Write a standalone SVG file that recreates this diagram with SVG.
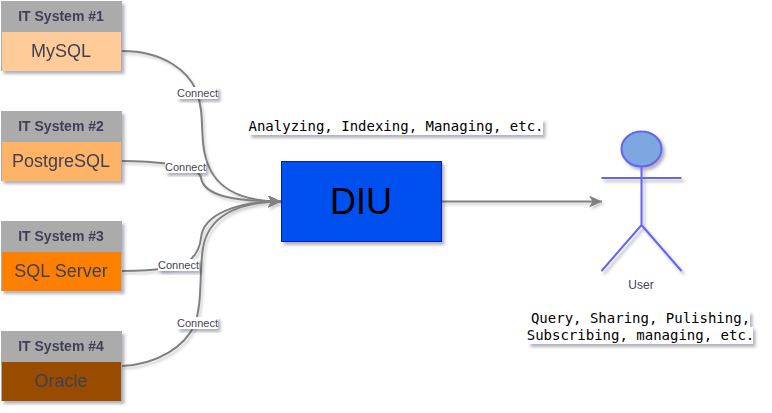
<svg xmlns="http://www.w3.org/2000/svg" width="772" height="413" viewBox="0 0 772 413">
<defs>
<filter id="sh" x="-20%" y="-20%" width="150%" height="150%"><feDropShadow dx="2.5" dy="3" stdDeviation="1.4" flood-color="#3a3a55" flood-opacity="0.38"/></filter>
<filter id="shc" filterUnits="userSpaceOnUse" x="0" y="0" width="772" height="413"><feDropShadow dx="2" dy="2.500" stdDeviation="1.200" flood-color="#3a3a55" flood-opacity="0.25"/></filter>
<marker id="arr" markerUnits="userSpaceOnUse" markerWidth="16" markerHeight="14" refX="13" refY="6" orient="auto"><path d="M0 0L13 6L0 12L3.500 6Z" fill="#808080"/></marker>
</defs>
<style>
text{font-family:"Liberation Sans",Arial,sans-serif;text-anchor:middle}
.hd{fill:#ababab}
.t{font-size:14px;font-weight:bold;fill:#3f3f55}
.b{font-size:18px;fill:#3f3f55}
.c{fill:none;stroke:#808080;stroke-width:2}
.lb{fill:#fff}
.l{font-size:11px;fill:#444450}
.m{font-family:"DejaVu Sans Mono","Liberation Mono",monospace;font-size:14px;fill:#000}
.u{fill:none;stroke:#6666e8;stroke-width:2}
</style>
<rect width="772" height="413" fill="#fff"/>
<g id="connectors" filter="url(#shc)">
<path class="c" marker-end="url(#arr)" d="M122 51C165 51 188 72 196 90C205 112 200 136 205 155C212 186 236 201.500 281 201.500"/>
<path class="c" marker-end="url(#arr)" d="M122 161C140 161 155 162 170 164C190 166 199 170 201 178C204 196 235 201.500 281 201.500"/>
<path class="c" marker-end="url(#arr)" d="M122 271C140 271 155 270 170 268C188 266 199 255 201 238C203 215 235 201.500 281 201.500"/>
<path class="c" marker-end="url(#arr)" d="M122 366C160 364 185 345 194 326C203 305 199 270 203 248C208 218 235 201.500 281 201.500"/>
<path class="c" marker-end="url(#arr)" d="M442 201.500H602"/>
</g>
<g id="label-1"><rect class="lb" x="177" y="87" width="41" height="12" filter="url(#sh)"/><text class="l" x="197.500" y="97">Connect</text></g>
<g id="label-2"><rect class="lb" x="165" y="161" width="41" height="12" filter="url(#sh)"/><text class="l" x="185.500" y="171">Connect</text></g>
<g id="label-3"><rect class="lb" x="158" y="259" width="41" height="12" filter="url(#sh)"/><text class="l" x="178.500" y="269">Connect</text></g>
<g id="label-4"><rect class="lb" x="177" y="317" width="41" height="12" filter="url(#sh)"/><text class="l" x="197.500" y="327">Connect</text></g>
<g id="system-1" filter="url(#sh)"><rect class="hd" x="1" y="1" width="121" height="70"/><rect x="2" y="32" width="119" height="39" fill="#ffcc99"/><text class="t" x="61" y="21">IT System #1</text><text class="b" x="61" y="57">MySQL</text></g>
<g id="system-2" filter="url(#sh)"><rect class="hd" x="1" y="111" width="121" height="70"/><rect x="2" y="142" width="119" height="39" fill="#ffb366"/><text class="t" x="61" y="131">IT System #2</text><text class="b" x="61" y="167">PostgreSQL</text></g>
<g id="system-3" filter="url(#sh)"><rect class="hd" x="1" y="221" width="121" height="70"/><rect x="2" y="252" width="119" height="39" fill="#ff8000"/><text class="t" x="61" y="241">IT System #3</text><text class="b" x="61" y="277">SQL Server</text></g>
<g id="system-4" filter="url(#sh)"><rect class="hd" x="1" y="331" width="121" height="70"/><rect x="2" y="362" width="119" height="39" fill="#994c00"/><text class="t" x="61" y="351">IT System #4</text><text class="b" x="61" y="387">Oracle</text></g>
<g id="diu"><rect x="281.500" y="161.500" width="160" height="80" fill="#0050ef" stroke="#001dbc" filter="url(#sh)"/><text x="361" y="214" font-size="36" fill="#000">DIU</text></g>
<g id="user"><g filter="url(#sh)"><ellipse cx="641.500" cy="149" rx="20" ry="17.500" fill="#7ea6e0" stroke="#6666e8" stroke-width="2"/><path class="u" d="M641.500 166.500V225M601.500 178H681.500M641.500 225L601.500 271M641.500 225L681.500 271"/></g><text x="641" y="289" font-size="12" fill="#3f3f55">User</text></g>
<g id="note-1"><rect class="lb" x="249" y="119" width="294" height="16" filter="url(#sh)"/><text class="m" x="396" y="131">Analyzing, Indexing, Managing, etc.</text></g>
<g id="note-2"><path class="lb" d="M531 311H750V327H753V344H528V327H531Z" filter="url(#sh)"/><text class="m" x="640.500" y="323">Query, Sharing, Pulishing,</text><text class="m" x="640.500" y="340">Subscribing, managing, etc.</text></g>
</svg>
